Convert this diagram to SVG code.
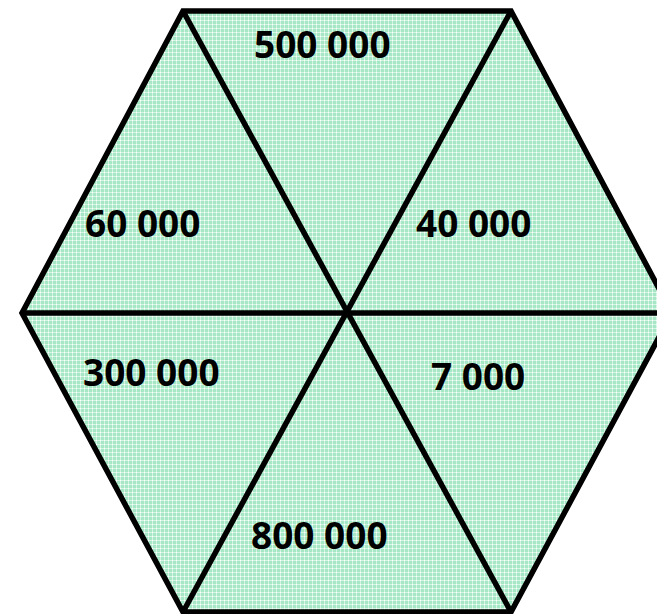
<svg xmlns="http://www.w3.org/2000/svg" width="657" height="614" viewBox="0 0 657 614">
  <defs>
    <pattern id="dots" width="4" height="4" patternUnits="userSpaceOnUse">
      <rect width="4" height="4" fill="#a6e8c6"/>
      <rect width="4" height="1" fill="#d6f5e5"/>
      <rect width="1" height="4" fill="#d6f5e5"/>
      <rect width="1" height="1" fill="#ffffff"/>
    </pattern>
  </defs>
  <style>
    .edge { stroke: #000; stroke-width: 5.5; fill: none; stroke-linejoin: miter; }
    .hex { stroke: #000; stroke-width: 5.5; fill: url(#dots); stroke-linejoin: miter; }
    .lbl { font-family: "Open Sans", "Liberation Sans", sans-serif; font-weight: bold; font-size: 37px; fill: #000; }
  </style>
  <rect width="657" height="614" fill="#ffffff"/>
  <g id="hexagon">
    <polygon class="hex" points="183,11 511,11 672,313 511,612 183,612 22,313"/>
  </g>
  <g id="connectors">
    <line class="edge" x1="22" y1="313" x2="672" y2="313"/>
    <line class="edge" x1="183" y1="11" x2="511" y2="612"/>
    <line class="edge" x1="511" y1="11" x2="183" y2="612"/>
  </g>
  <g id="t-top"><text class="lbl" x="254" y="58">500 000</text></g>
  <g id="t-upleft"><text class="lbl" x="85" y="237">60 000</text></g>
  <g id="t-upright"><text class="lbl" x="416" y="237">40 000</text></g>
  <g id="t-lowleft"><text class="lbl" x="83" y="386">300 000</text></g>
  <g id="t-lowright"><text class="lbl" x="431" y="390">7 000</text></g>
  <g id="t-bottom"><text class="lbl" x="251" y="549">800 000</text></g>
</svg>
